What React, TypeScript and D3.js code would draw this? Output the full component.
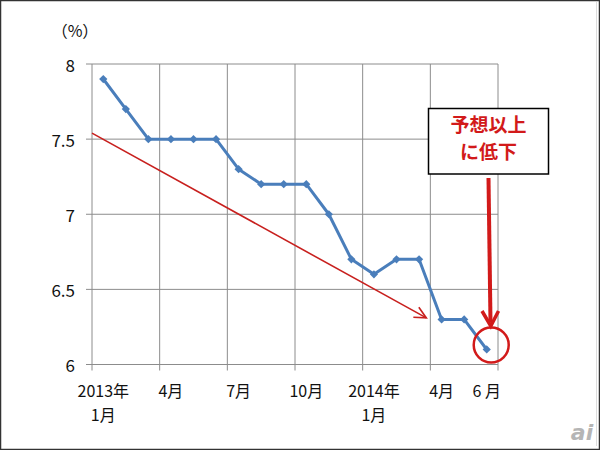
import React from "react";
import * as d3 from "d3";

const months = ["2013-01","2013-02","2013-03","2013-04","2013-05","2013-06","2013-07","2013-08","2013-09","2013-10","2013-11","2013-12","2014-01","2014-02","2014-03","2014-04","2014-05","2014-06"];
const rates = [7.9, 7.7, 7.5, 7.5, 7.5, 7.5, 7.3, 7.2, 7.2, 7.2, 7.0, 6.7, 6.6, 6.7, 6.7, 6.3, 6.3, 6.1];
const yTicks = [6, 6.5, 7, 7.5, 8];
const xTickLabels: { month: string; lines: string[] }[] = [
  { month: "2013-01", lines: ["2013年", "1月"] },
  { month: "2013-04", lines: ["4月"] },
  { month: "2013-07", lines: ["7月"] },
  { month: "2013-10", lines: ["10月"] },
  { month: "2014-01", lines: ["2014年", "1月"] },
  { month: "2014-04", lines: ["4月"] },
  { month: "2014-06", lines: ["6 月"] },
];
const gridMonths = ["2013-01","2013-04","2013-07","2013-10","2014-01","2014-04"];
const trendStart = 7.54;
const trendEndMonth = "2014-04";
const trendEnd = 6.31;
const unitLabel = "（%）";
const calloutLines = ["予想以上", "に低下"];

const W = 600, H = 450;
const plot = { left: 92, right: 498, top: 64, bottom: 364.5 };

export default function App() {
  const x = d3.scaleBand<string>().domain(months).range([plot.left, plot.right]).padding(0);
  const y = d3.scaleLinear().domain([6, 8]).range([plot.bottom, plot.top]);
  const cx = (m: string) => (x(m) as number) + x.bandwidth() / 2;
  const line = d3.line<number>().x((_, i) => cx(months[i])).y((d) => y(d));
  const font = "'Noto Sans CJK JP', 'Open Sans', sans-serif";
  const grid = "#8c8c8c";
  const blue = "#4a7ebb";
  const red = "#d21a1a";

  const vLines = [...gridMonths.map((m) => x(m) as number), plot.right];
  const trendX2 = (x(trendEndMonth) as number) - 4;
  const trendY2 = y(trendEnd);
  const ang = Math.atan2(trendY2 - y(trendStart), trendX2 - plot.left);
  const ah = 13;
  const lastX = cx(months[months.length - 1]);
  const lastY = y(rates[rates.length - 1]);
  const diamond = d3.symbol().type(d3.symbolSquare).size(34)() as string;

  return (
    <svg width={W} height={H} style={{ position: "absolute", left: 0, top: 0, background: "#fff" }} fontFamily={font}>
      <rect x={0.5} y={0.5} width={W - 1} height={H - 1} fill="#fff" stroke="#333" strokeWidth={1.5} />
      <line x1={596.5} x2={596.5} y1={2} y2={446} stroke="#ddd" strokeWidth={1} />
      {yTicks.map((t) => (
        <g key={"h" + t}>
          <line x1={plot.left - 6} x2={plot.right} y1={y(t)} y2={y(t)} stroke={grid} strokeWidth={1} />
          <text x={75} y={y(t)} textAnchor="end" dominantBaseline="central" fontSize={17} fill="#111">{t}</text>
        </g>
      ))}
      {vLines.map((vx, i) => (
        <line key={"v" + i} x1={vx} x2={vx} y1={plot.top} y2={plot.bottom + 6} stroke={grid} strokeWidth={1} />
      ))}
      {xTickLabels.map((t) => (
        <text key={t.month} x={cx(t.month)} y={397} textAnchor="middle" fontSize={16} fill="#111">
          {t.lines.map((l, i) => (
            <tspan key={i} x={cx(t.month)} dy={i === 0 ? 0 : 24}>{l}</tspan>
          ))}
        </text>
      ))}
      <text x={75} y={37} fontSize={16} textAnchor="middle" fill="#111">{unitLabel}</text>
      <line x1={plot.left} y1={y(trendStart)} x2={trendX2} y2={trendY2} stroke="#c8201e" strokeWidth={1.6} />
      <path
        d={`M${trendX2 - ah * Math.cos(ang - 0.45)},${trendY2 - ah * Math.sin(ang - 0.45)} L${trendX2},${trendY2} L${trendX2 - ah * Math.cos(ang + 0.45)},${trendY2 - ah * Math.sin(ang + 0.45)}`}
        fill="none" stroke="#c8201e" strokeWidth={1.6}
      />
      <path d={line(rates) as string} fill="none" stroke={blue} strokeWidth={3} strokeLinejoin="round" />
      {rates.map((r, i) => (
        <path key={i} d={diamond} transform={`translate(${cx(months[i])},${y(r)}) rotate(45)`} fill={blue} />
      ))}
      <rect x={428.5} y={108.5} width={120} height={65.5} fill="#fff" stroke="#000" strokeWidth={1.5} />
      {calloutLines.map((l, i) => (
        <text key={i} x={488.5} y={132 + i * 27} textAnchor="middle" fontSize={19} fontWeight="bold" fill={red}>{l}</text>
      ))}
      <line x1={488.5} y1={178} x2={490.5} y2={322} stroke={red} strokeWidth={4} />
      <path d={`M482,311 L490.8,326 L498.5,311`} fill="none" stroke={red} strokeWidth={3.5} strokeLinejoin="miter" />
      <circle cx={lastX + 4.5} cy={lastY - 4.5} r={17.5} fill="none" stroke={red} strokeWidth={2.5} />
      <text x={582} y={440} textAnchor="middle" fontSize={22} fontStyle="italic" fontWeight="bold" fill="#b5b5b5" fontFamily="'DejaVu Sans', sans-serif">ai</text>
    </svg>
  );
}
